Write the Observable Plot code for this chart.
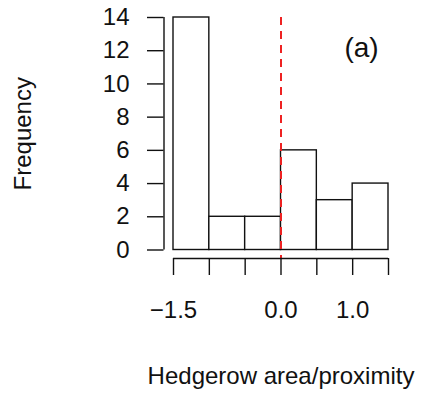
<!DOCTYPE html>
<html>
<head>
<meta charset="utf-8">
<script src="https://cdn.jsdelivr.net/npm/d3@7"></script>
<script src="https://cdn.jsdelivr.net/npm/@observablehq/plot@0.6"></script>
<style>
  html, body { margin: 0; padding: 0; background: #fff; }
  #chart svg { display: block; }
</style>
</head>
<body>
<div id="chart"></div>
<script>
// Histogram data (bins of width 0.5)
const binStart = [-1.5, -1.0, -0.5, 0.0, 0.5, 1.0];
const binEnd   = [-1.0, -0.5, 0.0, 0.5, 1.0, 1.5];
const counts   = [14, 2, 2, 6, 3, 4];

const xTicks = [-1.5, -1.0, -0.5, 0.0, 0.5, 1.0, 1.5];
const xTickLabels = ["−1.5", "", "", "0.0", "", "1.0", ""];
const yTicks = [0, 2, 4, 6, 8, 10, 12, 14];
const refLine = [0];
const xTitle = ["Hedgerow area/proximity"];
const yTitle = ["Frequency"];
const panelLabel = ["(a)"];

const bins = binStart.map((s, i) => ({x1: s, x2: binEnd[i], count: counts[i]}));
const labelOf = new Map(xTicks.map((t, i) => [t, xTickLabels[i]]));

const font = "'Liberation Sans', Arial, Helvetica, sans-serif";
const ink = "#111";

const chart = Plot.plot({
  width: 425,
  height: 396,
  marginLeft: 173,
  marginRight: 37,
  marginTop: 17,
  marginBottom: 146.5,
  style: {fontFamily: font, fontSize: "24px", color: ink, background: "#fff", overflow: "visible"},
  x: {domain: [-1.5, 1.5]},
  y: {domain: [0, 14]},
  marks: [
    Plot.rectY(bins, {x1: "x1", x2: "x2", y: "count", fill: "white", stroke: ink, strokeWidth: 1.4, inset: 0}),
    Plot.ruleX(refLine, {x: d => d, y1: 14, y2: 0, insetBottom: -8.5, stroke: "#ee2222", strokeWidth: 2, strokeDasharray: "8,6"}),
    // x axis line and ticks, offset below the plot
    Plot.ruleY([0], {x1: xTicks[0], x2: xTicks[xTicks.length - 1], dy: 8.5, stroke: ink, strokeWidth: 1.4}),
    Plot.axisX({ticks: xTicks, tickSize: 17, dy: 8.5, tickPadding: 25, strokeWidth: 1.4, stroke: ink,
      tickFormat: d => labelOf.get(d) ?? "", fontSize: 24, fill: ink, label: null}),
    // y axis line and ticks, offset left
    Plot.ruleX([xTicks[0]], {y1: yTicks[0], y2: yTicks[yTicks.length - 1], dx: -9.5, stroke: ink, strokeWidth: 1.4}),
    Plot.axisY({ticks: yTicks, tickSize: 16.5, dx: -9.5, tickPadding: 18, strokeWidth: 1.4, stroke: ink,
      tickFormat: d => String(d), fontSize: 24, fill: ink, label: null}),
    // titles
    Plot.text(yTitle, {frameAnchor: "left", rotate: -90, dx: -150, textAnchor: "middle", lineAnchor: "middle", fontSize: 24, fill: ink}),
    Plot.text(xTitle, {frameAnchor: "bottom", dy: 126, textAnchor: "middle", lineAnchor: "middle", fontSize: 24, fill: ink}),
    Plot.text(panelLabel, {frameAnchor: "top-right", dx: -27, dy: 31, textAnchor: "middle", lineAnchor: "middle", fontSize: 28, fill: ink})
  ]
});

document.getElementById("chart").appendChild(chart);
</script>
</body>
</html>
